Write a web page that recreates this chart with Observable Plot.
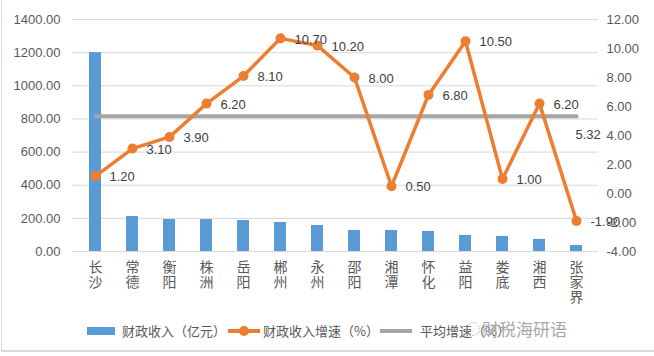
<!DOCTYPE html>
<html><head><meta charset="utf-8">
<script src="https://cdn.jsdelivr.net/npm/d3@7"></script>
<script src="https://cdn.jsdelivr.net/npm/@observablehq/plot@0.6"></script>
<style>
body{margin:0;background:#fff;}
#wrap{position:relative;width:654px;height:356px;overflow:hidden;font-family:"Liberation Sans","Noto Sans CJK SC",sans-serif;background:#fff;}
#chart svg{position:absolute;left:0;top:0;overflow:visible;}
.frame{position:absolute;left:1px;top:-2px;width:660px;height:354px;border-left:1px solid #d9d9d9;border-bottom:2px solid #d9d9d9;box-sizing:border-box;}
.lg{position:absolute;}
.lt{position:absolute;top:322px;font-size:13px;line-height:18px;color:#595959;font-family:"Noto Sans CJK SC",sans-serif;white-space:nowrap;}
.wm{position:absolute;left:482px;top:319px;font-size:17px;line-height:20px;color:#a8a8a8;font-family:"Noto Sans CJK SC",sans-serif;white-space:nowrap;}
</style></head>
<body>
<div id="wrap">
  <div class="frame"></div>
  <div id="chart"></div>
  <div id="legend"></div>
</div>
<script>
const cities = ["长沙","常德","衡阳","株洲","岳阳","郴州","永州","邵阳","湘潭","怀化","益阳","娄底","湘西","张家界"];
const revenue = [1200, 211, 193, 193, 187, 175, 157, 127, 127, 121, 97, 91, 73, 36];
const growth = [1.2, 3.1, 3.9, 6.2, 8.1, 10.7, 10.2, 8.0, 0.5, 6.8, 10.5, 1.0, 6.2, -1.9];
const avgGrowth = 5.32;
const leftTicks = [0, 200, 400, 600, 800, 1000, 1200, 1400];
const rightTicks = [-4, -2, 0, 2, 4, 6, 8, 10, 12];
const legendLabels = ["财政收入（亿元）", "财政收入增速（%）", "平均增速（%）"];
const watermark = "财税海研语";

// right axis (-4..12) mapped onto the left axis (0..1400)
const toLeft = v => (v + 4) * 87.5;
const fromLeft = v => v / 87.5 - 4;

const data = cities.map((c, i) => ({city: c, revenue: revenue[i], growth: growth[i], avg: avgGrowth}));

const chart = Plot.plot({
  width: 654, height: 312,
  marginLeft: 72, marginRight: 56, marginTop: 19, marginBottom: 61,
  x: {domain: cities, paddingInner: 0.68, paddingOuter: 0.34},
  y: {domain: [0, 1400]},
  style: {fontFamily: '"Liberation Sans","Noto Sans CJK SC",sans-serif', fontSize: "13px", color: "#595959", background: "transparent", overflow: "visible"},
  marks: [
    Plot.gridY(leftTicks, {stroke: "#d9d9d9", strokeOpacity: 1, strokeWidth: 1}),
    Plot.barY(data, {x: "city", y: "revenue", fill: "#5b9bd5"}),
    Plot.lineY(data, {x: "city", y: d => toLeft(d.avg), stroke: "#a5a5a5", strokeWidth: 4}),
    Plot.lineY(data, {x: "city", y: d => toLeft(d.growth), stroke: "#ed7d31", strokeWidth: 3.5}),
    Plot.dot(data, {x: "city", y: d => toLeft(d.growth), r: 5, fill: "#ed7d31", stroke: "none"}),
    Plot.text(data, {x: "city", y: d => toLeft(d.growth), text: d => d.growth.toFixed(2), textAnchor: "start", dx: 14, dy: 1, fill: "#404040", fontSize: 13}),
    Plot.text(data.slice(-1), {x: "city", y: d => toLeft(d.avg), text: d => d.avg.toFixed(2), textAnchor: "start", dx: -1, dy: 18, fill: "#404040", fontSize: 13}),
    Plot.axisY(leftTicks, {anchor: "left", tickSize: 0, tickPadding: 12, tickFormat: d => d.toFixed(2), label: null, fill: "#595959", fontSize: 13}),
    Plot.axisY(rightTicks.map(toLeft), {anchor: "right", tickSize: 0, tickPadding: 8, tickFormat: d => fromLeft(d).toFixed(2), label: null, fill: "#595959", fontSize: 13}),
    Plot.axisX({tickSize: 0, tickPadding: 10, tickFormat: d => d.split("").join("\n"), label: null, fill: "#595959", fontSize: 14, lineHeight: 1.07, fontFamily: '"Noto Sans CJK SC",sans-serif'})
  ]
});
document.getElementById("chart").appendChild(chart);

const lg = document.getElementById("legend");
lg.innerHTML = `
  <div class="lg" style="left:87px;top:327px;width:28px;height:8px;background:#5b9bd5"></div>
  <div class="lt" style="left:122px">${legendLabels[0]}</div>
  <div class="lg" style="left:228px;top:329px;width:32px;height:3.5px;background:#ed7d31"></div>
  <div class="lg" style="left:239px;top:326px;width:10px;height:10px;border-radius:50%;background:#ed7d31"></div>
  <div class="lt" style="left:263px">${legendLabels[1]}</div>
  <div class="lg" style="left:380px;top:329px;width:32px;height:4px;background:#a5a5a5"></div>
  <div class="lt" style="left:420px">${legendLabels[2]}</div>
  <div class="lg" style="left:466px;top:322px;width:14px;height:14px;border-radius:50%;border:1px dotted #b0b0b0;box-sizing:border-box"></div>
  <div class="wm">${watermark}</div>
`;
</script>
</body></html>
